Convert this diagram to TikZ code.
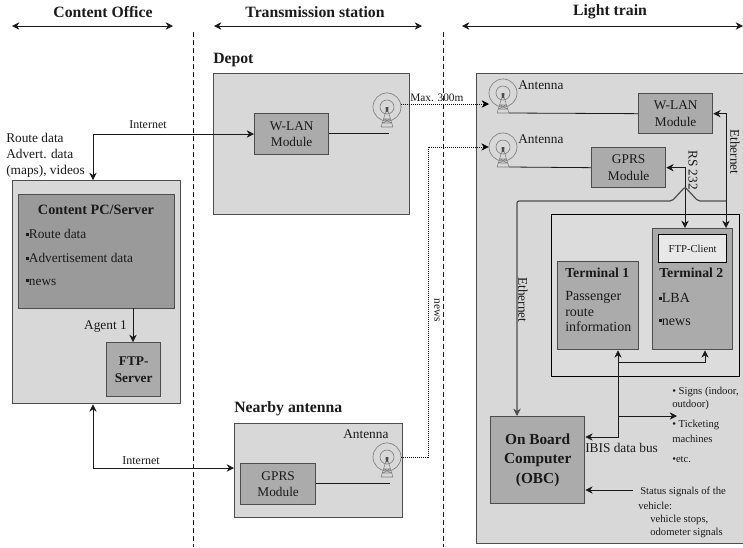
\documentclass[tikz,border=0pt]{standalone}
\usepackage{fontspec}
\setmainfont{Liberation Serif}
\usetikzlibrary{arrows.meta, positioning, calc}
\definecolor{panelgray}{HTML}{D8D8D8}
\definecolor{modgray}{HTML}{ABABAB}
\definecolor{edgegray}{HTML}{4D4D4D}
\definecolor{inkgray}{HTML}{1A1A1A}
\newcommand{\sqb}{\rule[0.22em]{2pt}{2pt}}
\tikzset{
  panel/.style={draw=edgegray, fill=panelgray, line width=1pt, anchor=north west, inner sep=0pt},
  module/.style={draw=edgegray, fill=modgray, line width=1pt, anchor=north west, inner sep=0pt, align=center, font=\fontsize{10}{12.5}\selectfont, text=inkgray},
  note/.style={inner sep=0pt, text=inkgray, font=\fontsize{10}{12}\selectfont},
  smalltxt/.style={inner sep=0pt, text=inkgray, anchor=west, font=\fontsize{8}{9}\selectfont},
  head/.style={inner sep=0pt, text=inkgray, font=\fontsize{11.8}{13}\bfseries\selectfont},
  link/.style={draw=inkgray, line width=0.6pt},
  flow/.style={link, >={Stealth[length=5.5pt,width=5.5pt]}},
  radio/.style={draw=black, densely dotted, line width=0.5pt, >={Stealth[length=5.5pt,width=5.5pt]}},
  zone/.style={draw=inkgray, line width=0.6pt, dash pattern=on 4pt off 2pt},
  antenna/.pic={
    \node[circle, draw=gray, line width=0.5pt, minimum size=21pt, inner sep=0pt] (ring) at (0,0) {};
    \draw[gray, line width=0.5pt] (0,0) circle (7);
    \fill[gray!60!black] (-1.5,0) -- (1.5,0) -- (1,5) -- (-1,5) -- cycle;
    \draw[gray, line width=0.4pt] (-1,4) -- (-6,20) (1,4) -- (6,20) (-3,12) -- (3,12) (-4.5,16) -- (4.5,16) (-6,20) -- (6,20) (-3,12) -- (4.5,16) (3,12) -- (-4.5,16);
    \coordinate (base) at (6,20);
  }
}

\begin{document}
\begin{tikzpicture}[x=0.75pt, y=-0.75pt]
  \useasboundingbox (0,0) rectangle (743,547);

  % top row
  \node[head] (Office) at (103,12) {Content Office};
  \node[head] (Station) at (315,12) {Transmission station};
  \node[head] (Train) at (610,12) {Light train};
  \coordinate (OfficeL) at (12,26);
  \coordinate (OfficeR) at (173,26);
  \coordinate (StationL) at (214,26);
  \coordinate (StationR) at (422,26);
  \coordinate (TrainL) at (462,26);
  \coordinate (TrainR) at (743,26);
  \draw[flow, <->] (OfficeL) -- (OfficeR);
  \draw[flow, <->] (StationL) -- (StationR);
  \draw[flow, <->] (TrainL) -- (TrainR);
  \coordinate (ZoneAt) at (193,32);
  \coordinate (ZoneAb) at (193,547);
  \coordinate (ZoneBt) at (443,32);
  \coordinate (ZoneBb) at (443,547);
  \draw[zone] (ZoneAt) -- (ZoneAb);
  \draw[zone] (ZoneBt) -- (ZoneBb);

  % content office
  \node[panel, minimum width=126pt, minimum height=167.25pt] (OfficeBox) at (12,180) {};
  \node[module, fill=modgray!90!black, minimum width=117pt, minimum height=85.5pt] (PC) at (18,194) {};
  \node[module, minimum width=40.5pt, minimum height=40.5pt, font=\fontsize{10}{13}\bfseries\selectfont] (FTPs) at (106,342) {FTP-\\Server};
  \node[head, font=\fontsize{10.7}{14}\bfseries\selectfont] (PCt) at (96,210) {Content PC/Server};
  \node[note, anchor=west] (PCa) at (26,234) {\sqb Route data};
  \node[note, anchor=west] (PCb) at (26,258) {\sqb Advertisement data};
  \node[note, anchor=west] (PCc) at (26,282) {\sqb news};
  \node[note, anchor=north west, align=left] (Feed) at (6,133) {Route data\\Advert. data\\(maps), videos};
  \coordinate (AgentTop) at (133,308);
  \draw[flow, ->] (AgentTop) -- (AgentTop |- FTPs.north);
  \node[note, anchor=east] (Agent) at (127,327) {Agent 1};

  % depot
  \node[head, anchor=west] (DepotT) at (213,60) {Depot};
  \node[panel, minimum width=147pt, minimum height=105.75pt] (Depot) at (213,73) {};
  \node[module, minimum width=55.5pt, minimum height=30.75pt] (WlanD) at (254,113) {W-LAN\\Module};
  \pic (AntD) at (387,107) {antenna};
  \coordinate (EndD) at (389,133);
  \draw[link] (WlanD.east |- EndD) -- (EndD);

  % nearby antenna
  \node[head, anchor=west] (NearT) at (234,409) {Nearby antenna};
  \node[panel, minimum width=126pt, minimum height=70.5pt] (Near) at (234,423) {};
  \node[module, minimum width=56.25pt, minimum height=30.75pt] (GprsN) at (240,463) {GPRS\\Module};
  \pic (AntN) at (387,457) {antenna};
  \node[smalltxt, font=\fontsize{10}{11}\selectfont] (AntNt) at (343,434) {Antenna};
  \coordinate (EndN) at (390,483);
  \draw[link] (GprsN.east |- EndN) -- (EndN);

  % train
  \node[panel, minimum width=200pt, minimum height=352.5pt] (Light) at (476,73) {};
  \pic (AntA) at (503,93) {antenna};
  \pic (AntB) at (503,147) {antenna};
  \node[smalltxt, font=\fontsize{10}{11}\selectfont] (AntAt) at (518,85) {Antenna};
  \node[smalltxt, font=\fontsize{10}{11}\selectfont] (AntBt) at (518,139) {Antenna};
  \node[module, minimum width=55.5pt, minimum height=30pt] (WlanT) at (638,93) {W-LAN\\Module};
  \node[module, minimum width=55.5pt, minimum height=30pt] (GprsT) at (591,147) {GPRS\\Module};
  \draw[link] (WlanT.west) -- (AntAbase);
  \draw[link] (GprsT.west) -- (AntBbase);
  \node[panel, draw=black, fill=panelgray!90!white, line width=0.8pt, minimum width=141pt, minimum height=121.5pt] (Inner) at (551,214) {};
  \node[module, minimum width=60.75pt, minimum height=66pt] (Term1) at (557,261) {};
  \node[module, minimum width=60pt, minimum height=90.75pt] (Term2) at (652,228) {};
  \node[module, draw=black, fill=panelgray!60!white, minimum width=51pt, minimum height=21pt, font=\fontsize{8}{9}\selectfont] (FTPc) at (658,234) {FTP-Client};
  \node[note, anchor=west, font=\fontsize{10.3}{12}\bfseries\selectfont] (T1t) at (565,273) {Terminal 1};
  \node[note, anchor=north west, align=left, font=\fontsize{10.5}{11.7}\selectfont] (T1x) at (565,291) {Passenger\\route\\information};
  \node[note, anchor=west, font=\fontsize{10.3}{12}\bfseries\selectfont] (T2t) at (659,273) {Terminal 2};
  \node[note, anchor=west, font=\fontsize{10.5}{12}\selectfont] (T2a) at (659,298) {\sqb LBA};
  \node[note, anchor=west, font=\fontsize{10.5}{12}\selectfont] (T2b) at (659,322) {\sqb news};
  \node[module, minimum width=70.5pt, minimum height=65.25pt, font=\fontsize{11.5}{14.7}\bfseries\selectfont] (OBC) at (490,416) {On Board\\Computer\\(OBC)};

  % radio links
  \coordinate (MaxA) at (401,104);
  \coordinate (MaxB) at (489,104);
  \draw[radio, ->] (MaxA) -- (MaxB);
  \coordinate (BendA) at (428,457);
  \coordinate (BendB) at (428,147);
  \draw[radio, ->] (AntNring.east) -- (BendA) -- (BendB) -- (AntBring.west);
  \node[note, anchor=west, font=\fontsize{8.5}{10}\selectfont] (Range) at (410,98) {Max. 300m};
  \node[note, rotate=-90, font=\fontsize{8.5}{10}\selectfont] (News) at (437,310) {news};

  % wired links
  \coordinate (NetUp) at (93,134);
  \draw[flow, <->] (OfficeBox.north -| NetUp) -- (NetUp) -- (WlanD.west |- NetUp);
  \node[note, font=\fontsize{9}{11}\selectfont] (NetA) at (148,125) {Internet};
  \coordinate (NetDown) at (93,468);
  \draw[flow, <->] (OfficeBox.south -| NetDown) -- (NetDown) -- (Near.west |- NetDown);
  \node[note, font=\fontsize{9}{11}\selectfont] (NetB) at (141,461) {Internet};
  \coordinate (DropE) at (726,228);
  \coordinate (DropR) at (685,228);
  \draw[flow, <->] (WlanT.east) -| (DropE);
  \draw[flow, <->] (GprsT.east) -| (DropR);
  \coordinate (EthR) at (726,201);
  \coordinate (EthL) at (517,201);
  \draw[flow, ->, draw=edgegray, line width=0.9pt, rounded corners=1.5pt] (EthR) -- (698,201) -- (685,187) -- (672,201) -- (EthL) -- (OBC.north -| EthL);
  \node[note, rotate=-90] (EthA) at (735,152) {Ethernet};
  \node[note, rotate=-90] (EthB) at (523,300) {Ethernet};
  \node[note, rotate=-90] (RS) at (693,170) {RS 232};

  % bus
  \coordinate (BusA) at (618,362);
  \coordinate (BusB) at (705,362);
  \coordinate (BusC) at (618,437);
  \coordinate (BusD) at (618,416);
  \coordinate (BusE) at (677,416);
  \draw[flow, ->] (BusA) -- (BusA |- Term1.south);
  \draw[flow, ->] (BusA) -- (BusB) -- (BusB |- Term2.south);
  \draw[flow, ->] (BusA) -- (BusC) -- (OBC.east |- BusC);
  \draw[flow, ->] (BusD) -- (BusE);
  \node[note, anchor=west] (IBIS) at (585,448) {IBIS data bus};
  \coordinate (StatusA) at (633,490);
  \draw[flow, ->] (StatusA) -- (OBC.east |- StatusA);

  % side notes
  \node[smalltxt] (SignA) at (672,392) {\textbullet\ Signs (indoor,};
  \node[smalltxt] (SignB) at (672,405) {outdoor)};
  \node[smalltxt] (SignC) at (672,425) {\textbullet\ Ticketing};
  \node[smalltxt] (SignD) at (672,439) {machines};
  \node[smalltxt] (SignE) at (672,460) {\textbullet etc.};
  \node[smalltxt] (StatA) at (640,492) {Status signals of the};
  \node[smalltxt] (StatB) at (638,506) {vehicle:};
  \node[smalltxt] (StatC) at (650,520) {vehicle stops,};
  \node[smalltxt] (StatD) at (650,533) {odometer signals};
\end{tikzpicture}
\end{document}
